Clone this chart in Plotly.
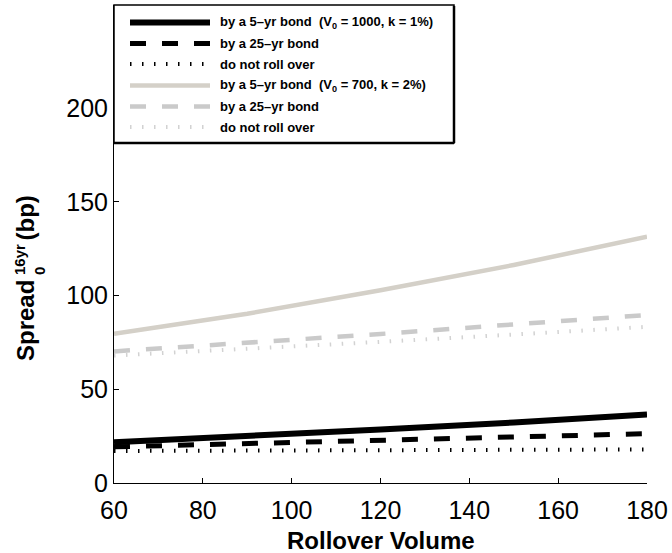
import plotly.graph_objects as go

# ---------------- data ----------------
rollover_volume = [60, 90, 120, 150, 180]

s1_5yr   = [21.8, 24.9, 28.5, 32.3, 36.6]     # V0=1000, k=1%, 5-yr bond
s1_25yr  = [19.3, 21.0, 22.8, 24.5, 26.3]     # V0=1000, k=1%, 25-yr bond
s1_noroll = [17.1, 17.2, 17.4, 17.6, 17.9]    # V0=1000, k=1%, no rollover

s2_5yr   = [79.6, 90.3, 102.8, 116.3, 131.4]  # V0=700, k=2%, 5-yr bond
s2_25yr  = [70.2, 74.6, 79.5, 84.6, 89.6]     # V0=700, k=2%, 25-yr bond
s2_noroll = [68.0, 71.5, 75.3, 79.2, 83.3]    # V0=700, k=2%, no rollover

series_names = [
    "by a 5\u2013yr bond&nbsp;&nbsp;(V<sub>0</sub> = 1000, k = 1%)",
    "by a 25\u2013yr bond",
    "do not roll over",
    "by a 5\u2013yr bond&nbsp;&nbsp;(V<sub>0</sub> = 700, k = 2%)",
    "by a 25\u2013yr bond",
    "do not roll over",
]
series_values = [s1_5yr, s1_25yr, s1_noroll, s2_5yr, s2_25yr, s2_noroll]

x_ticks = [60, 80, 100, 120, 140, 160, 180]
y_ticks = [0, 50, 100, 150, 200]
x_title = "Rollover Volume"

# ---------------- styles ----------------
styles = [
    dict(color="#000000", width=6, dash="solid"),
    dict(color="#000000", width=5, dash="16px,16px"),
    dict(color="#000000", width=4, dash="1.5px,10.5px"),
    dict(color="#d4d0c8", width=4.5, dash="solid"),
    dict(color="#cacaca", width=4.5, dash="16px,16px"),
    dict(color="#d2d2d2", width=4, dash="1.5px,10.5px"),
]

W, H = 672, 553
ML, MR, MT, MB = 114, 25, 5, 70
PW, PH = W - ML - MR, H - MT - MB


def px(xp):
    return (xp - ML) / PW


def py(yp):
    return (H - MB - yp) / PH


FONT = "Liberation Sans, Arial, Helvetica, sans-serif"

fig = go.Figure()
for name, vals, st in zip(series_names, series_values, styles):
    fig.add_trace(go.Scatter(
        x=rollover_volume, y=vals, mode="lines", name=name,
        line=dict(color=st["color"], width=st["width"], dash=st["dash"]),
        showlegend=False,
    ))

shapes = []
annotations = []

# legend box
lx0, lx1, ly0, ly1 = 114, 454, 5, 143
shapes.append(dict(type="rect", xref="paper", yref="paper",
                   x0=px(lx0), x1=px(lx1), y0=py(ly1), y1=py(ly0),
                   line=dict(color="black", width=1.5), fillcolor="white", layer="above"))
shapes.append(dict(type="line", xref="paper", yref="paper",
                   x0=px(lx1), x1=px(lx1), y0=py(ly1), y1=py(ly0 + 1),
                   line=dict(color="black", width=2.5), layer="above"))
shapes.append(dict(type="line", xref="paper", yref="paper",
                   x0=px(lx0), x1=px(lx1), y0=py(ly1), y1=py(ly1),
                   line=dict(color="black", width=2.5), layer="above"))

row_y = [22.5, 43.5, 64, 85.5, 106.5, 127]
for name, st, ry in zip(series_names, styles, row_y):
    shapes.append(dict(type="line", xref="paper", yref="paper",
                       x0=px(130), x1=px(210), y0=py(ry), y1=py(ry),
                       line=dict(color=st["color"], width=st["width"], dash=st["dash"]),
                       layer="above"))
    annotations.append(dict(xref="paper", yref="paper", x=px(218), y=py(ry),
                            xanchor="left", yanchor="middle", showarrow=False,
                            text="<b>" + name + "</b>",
                            font=dict(family=FONT, size=13, color="black")))

# x-axis title
annotations.append(dict(xref="paper", yref="paper", x=px(381), y=py(540),
                        xanchor="center", yanchor="middle", showarrow=False,
                        text="<b>" + x_title + "</b>",
                        font=dict(family=FONT, size=24, color="black")))

# y-axis title with stacked sub/superscript
annotations.append(dict(xref="paper", yref="paper", x=px(25), y=py(321),
                        xanchor="center", yanchor="middle", showarrow=False, textangle=-90,
                        text="<b>Spread</b>", font=dict(family=FONT, size=24, color="black")))
annotations.append(dict(xref="paper", yref="paper", x=px(19), y=py(260),
                        xanchor="center", yanchor="middle", showarrow=False, textangle=-90,
                        text="<b>16yr</b>", font=dict(family=FONT, size=15, color="black")))
annotations.append(dict(xref="paper", yref="paper", x=px(39), y=py(271),
                        xanchor="center", yanchor="middle", showarrow=False, textangle=-90,
                        text="<b>0</b>", font=dict(family=FONT, size=15, color="black")))
annotations.append(dict(xref="paper", yref="paper", x=px(25), y=py(218.5),
                        xanchor="center", yanchor="middle", showarrow=False, textangle=-90,
                        text="<b>(bp)</b>", font=dict(family=FONT, size=24, color="black")))

fig.update_layout(
    width=W, height=H,
    margin=dict(l=ML, r=MR, t=MT, b=MB, pad=0),
    paper_bgcolor="white", plot_bgcolor="white",
    font=dict(family=FONT, color="black"),
    shapes=shapes, annotations=annotations,
    xaxis=dict(range=[60, 180], tickvals=x_ticks, ticktext=[str(v) for v in x_ticks],
               ticks="inside", ticklen=5, tickwidth=1, tickcolor="black",
               ticklabelstandoff=5,
               showline=True, linecolor="black", linewidth=1, mirror=False,
               showgrid=False, zeroline=False,
               tickfont=dict(family=FONT, size=25, color="black")),
    yaxis=dict(range=[0, 255], tickvals=y_ticks, ticktext=[str(v) for v in y_ticks],
               ticks="inside", ticklen=5, tickwidth=1, tickcolor="black",
               showline=True, linecolor="black", linewidth=1, mirror=False,
               showgrid=False, zeroline=False,
               tickfont=dict(family=FONT, size=25, color="black")),
)

fig.write_html("out.html")
